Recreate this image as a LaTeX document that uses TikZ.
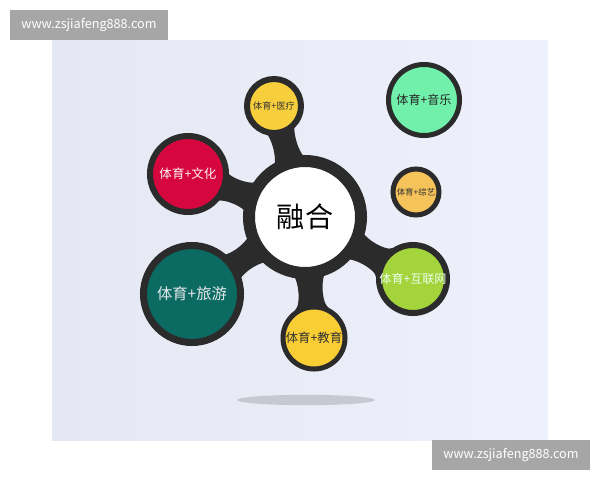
\documentclass[tikz,border=0pt]{standalone}
\usepackage{fontspec}
\setmainfont{Noto Sans CJK SC}
\usetikzlibrary{calc}
\usetikzlibrary{shadows}
\pgfdeclarelayer{panel}
\pgfdeclarelayer{stems}
\pgfsetlayers{panel,stems,main}
\definecolor{ringdark}{HTML}{2B2B2B}
\definecolor{panelleft}{HTML}{E5E7F2}
\definecolor{panelright}{HTML}{EEF0FB}
\definecolor{markgray}{HTML}{A6A6A6}
\definecolor{floorgray}{HTML}{BFC0C9}
\definecolor{yiliaoyellow}{HTML}{F7CF3D}
\definecolor{wenhuared}{HTML}{D6063F}
\definecolor{lvyouteal}{HTML}{0B6B62}
\definecolor{jiaoyuyellow}{HTML}{F9CD34}
\definecolor{hulianlime}{HTML}{A3D43C}
\definecolor{zongyiamber}{HTML}{F6C35A}
\definecolor{yinyuemint}{HTML}{70F0AB}
\tikzset{x=0.025cm, y=-0.025cm,
    bubble/.style={
        circle,
        draw=ringdark,
        line width=0.15cm,
        inner sep=0pt,
        drop shadow={shadow xshift=1pt,shadow yshift=-1.2pt,opacity=.25}},
    stem/.style={
        fill=ringdark},
    watermark/.style={
        fill=markgray,
        text=white,
        inner sep=0pt,
        minimum width=3.95cm,
        minimum height=0.75cm,
        font=\fontsize{9}{9}\selectfont}}
% neck from the hub to a bubble: #1 bubble, #2 direction, #3 its ring radius,
% #4 spread on the hub, #5 spread on the bubble
\newcommand\neck[5]{%
    \path[stem] ($(hub)+(#2+#4:1.4cm)$)
        .. controls ($(hub)+(#2:1.4cm)+(#2+90:0.25cm)$) and ($(#1)+(#2+180:#3)+(#2+90:0.25cm)$) ..
        ($(#1)+(#2+180-#5:#3)$) -- ($(#1)+(#2+180+#5:#3)$)
        .. controls ($(#1)+(#2+180:#3)+(#2-90:0.25cm)$) and ($(hub)+(#2:1.4cm)+(#2-90:0.25cm)$) ..
        ($(hub)+(#2-#4:1.4cm)$) -- cycle;}

\begin{document}
\begin{tikzpicture}
        \useasboundingbox (0,0) rectangle (600,480);
        \begin{pgfonlayer}{panel}
            \shade[left color=panelleft,right color=panelright] (52,40) rectangle (548,440);
            \fill[floorgray,opacity=.8] (306,400) ellipse [x radius=1.72cm, y radius=0.13cm];
        \end{pgfonlayer}

        \node[watermark] (markTL) at (89,25) {www.zsjiafeng888.com};
        \node[watermark] (markBR) at (511,455) {www.zsjiafeng888.com};

        \node[bubble,fill=white,line width=0.3cm,minimum size=2.8cm,
              font=\fontsize{20}{20}\selectfont] (hub) at (305,217) {融合};
        \node[bubble,fill=yiliaoyellow,minimum size=1.35cm,text=black!80,
              font=\fontsize{6.5}{6.5}\selectfont] (yiliao) at (274,106) {体育+医疗};
        \node[bubble,fill=wenhuared,minimum size=1.9cm,text=white!95!red,
              font=\fontsize{8.9}{8.9}\selectfont] (wenhua) at (188,174) {体育+文化};
        \node[bubble,fill=lvyouteal,minimum size=2.425cm,line width=0.175cm,text=cyan!10!gray!22,
              font=\fontsize{10.9}{10.9}\selectfont] (lvyou) at (192,294) {体育+旅游};
        \node[bubble,fill=jiaoyuyellow,minimum size=1.55cm,line width=0.125cm,text=black!80,
              font=\fontsize{8.8}{8.8}\selectfont] (jiaoyu) at (314,338) {体育+教育};
        \node[bubble,fill=hulianlime,minimum size=1.7cm,text=white!92!green,
              font=\fontsize{8.6}{8.6}\selectfont] (hulian) at (413,279) {体育+互联网};
        \node[bubble,fill=zongyiamber,minimum size=1.15cm,line width=0.125cm,text=black!80,
              font=\fontsize{6}{6}\selectfont] (zongyi) at (416,192) {体育+综艺};
        \node[bubble,fill=yinyuemint,minimum size=1.775cm,line width=0.125cm,text=black!85,
              font=\fontsize{8.6}{8.6}\selectfont] (yinyue) at (424,100) {体育+音乐};

        \begin{pgfonlayer}{stems}
            \neck{yiliao}{105.6}{0.675cm}{22}{38}
            \neck{wenhua}{159.8}{0.95cm}{22}{27}
            \neck{lvyou}{213.9}{1.21cm}{22}{21}
            \neck{jiaoyu}{274.3}{0.84cm}{22}{30}
            \neck{hulian}{330.1}{0.925cm}{22}{27}
        \end{pgfonlayer}
    \end{tikzpicture}
\end{document}
